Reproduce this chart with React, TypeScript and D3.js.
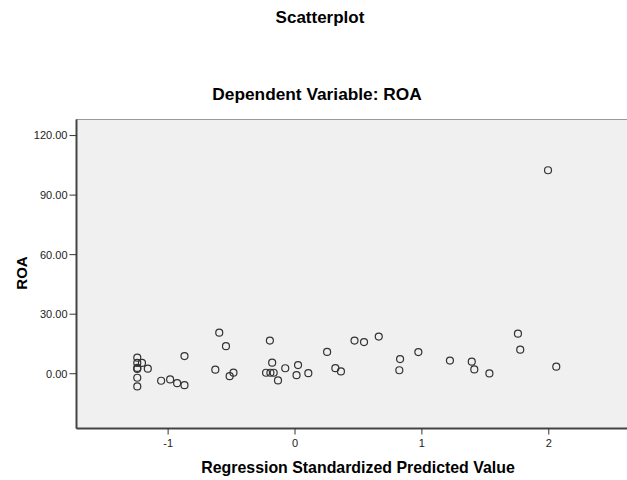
import React from "react";
import * as d3 from "d3";

const predicted: number[] = [
  -1.243, -1.243, -1.206, -1.243, -1.243, -1.16, -1.243, -1.243,
  -1.055, -0.984, -0.929, -0.871, -0.871, -0.628, -0.597, -0.544,
  -0.515, -0.485, -0.198, -0.18, -0.228, -0.194, -0.168, -0.134,
  -0.077, 0.024, 0.012, 0.105, 0.253, 0.318, 0.362, 0.469,
  0.544, 0.66, 0.828, 0.822, 0.972, 1.221, 1.393, 1.413,
  1.532, 1.757, 1.775, 2.059, 1.994,
];
const roa: number[] = [
  8.07, 5.45, 5.45, 2.92, 2.42, 2.52, -2.02, -6.4,
  -3.53, -2.87, -4.74, -5.75, 8.88, 2.02, 20.68, 13.87,
  -1.21, 0.55, 16.69, 5.55, 0.5, 0.5, 0.5, -3.38,
  2.77, 4.34, -0.71, 0.3, 10.99, 2.82, 1.16, 16.69,
  15.94, 18.71, 7.36, 1.76, 10.89, 6.61, 6.05, 2.17,
  0.15, 20.17, 12.1, 3.53, 102.52,
];
const xTicks: number[] = [-1, 0, 1, 2];
const yTicks: number[] = [0, 30, 60, 90, 120];

const W = 627;
const H = 480;
const L = 76.5;
const R = 630;
const T = 119.5;
const B = 428.5;

export default function App() {
  const x = d3.scaleLinear().domain([-1.722, 2.64]).range([L, R]);
  const y = d3.scaleLinear().domain([-27.6, 128.1]).range([B, T]);
  const font = "'Liberation Sans', Arial, sans-serif";
  const pts = predicted.map((p, i) => ({ p, r: roa[i] }));
  return (
    <svg
      width={W}
      height={H}
      style={{ position: "absolute", left: 0, top: 0, background: "#fff" }}
      fontFamily={font}
    >
      <text x={320} y={23} textAnchor="middle" fontSize={17} fontWeight="bold" fill="#000">
        Scatterplot
      </text>
      <text x={317} y={100} textAnchor="middle" fontSize={17.3} fontWeight="bold" fill="#000">
        Dependent Variable: ROA
      </text>
      <rect x={L} y={T} width={R - L} height={B - T} fill="#f0f0f0" stroke="#9a9a9a" strokeWidth={1} />
      <line x1={L} x2={L} y1={T} y2={B} stroke="#444" strokeWidth={2} />
      <line x1={L} x2={R} y1={B} y2={B} stroke="#444" strokeWidth={2} />
      {yTicks.map((t) => (
        <g key={"y" + t}>
          <line x1={L - 7} x2={L} y1={y(t)} y2={y(t)} stroke="#333" strokeWidth={1} />
          <text x={L - 9} y={y(t)} dy="0.35em" textAnchor="end" fontSize={11} fill="#222">
            {t.toFixed(2)}
          </text>
        </g>
      ))}
      {xTicks.map((t) => (
        <g key={"x" + t}>
          <line x1={x(t)} x2={x(t)} y1={B} y2={B + 6} stroke="#333" strokeWidth={1} />
          <text x={x(t)} y={447} textAnchor="middle" fontSize={11} fill="#222">
            {t}
          </text>
        </g>
      ))}
      {pts.map((d, i) => (
        <circle
          key={i}
          cx={x(d.p)}
          cy={y(d.r)}
          r={3.5}
          fill="none"
          stroke="#333"
          strokeWidth={1.2}
        />
      ))}
      <text x={358} y={473} textAnchor="middle" fontSize={15.9} fontWeight="bold" fill="#000">
        Regression Standardized Predicted Value
      </text>
      <text
        transform={`translate(27, 273) rotate(-90)`}
        textAnchor="middle"
        fontSize={15}
        fontWeight="bold"
        fill="#000"
      >
        ROA
      </text>
    </svg>
  );
}
